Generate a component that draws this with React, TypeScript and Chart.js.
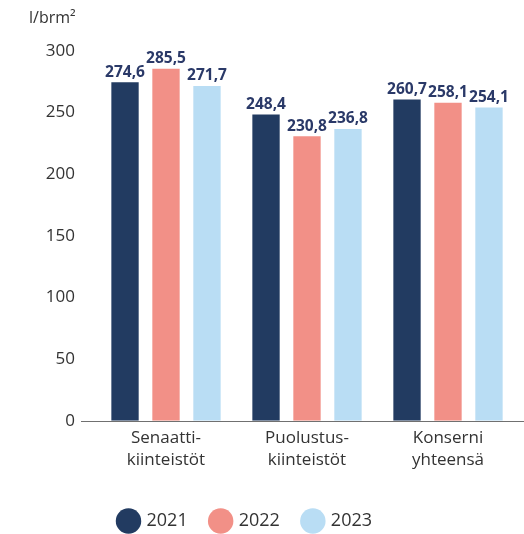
import React, { useEffect, useRef } from "react";
import { Chart, registerables } from "chart.js";

Chart.register(...registerables);

const categories: string[][] = [
  ["Senaatti-", "kiinteistöt"],
  ["Puolustus-", "kiinteistöt"],
  ["Konserni", "yhteensä"],
];
const seriesNames = ["2021", "2022", "2023"];
const values2021 = [274.6, 248.4, 260.7];
const values2022 = [285.5, 230.8, 258.1];
const values2023 = [271.7, 236.8, 254.1];
const seriesColors = ["#223b61", "#f29087", "#b9ddf4"];
const yTicksStep = 50;
const yMax = 300;
const unitLabel = "l/brm²";

const FONT = "'Open Sans', 'Noto Sans', sans-serif";
const TEXT = "#333333";
const LABEL = "#2a3968";

const baselinePlugin = {
  id: "baseline",
  beforeDatasetsDraw(chart: any) {
    const { ctx, chartArea, scales } = chart;
    const y = Math.round(scales.y.getPixelForValue(0)) + 0.5;
    ctx.save();
    ctx.strokeStyle = "#707070";
    ctx.lineWidth = 1.2;
    ctx.beginPath();
    ctx.moveTo(chartArea.left - 14.5, y);
    ctx.lineTo(chart.width, y);
    ctx.stroke();
    ctx.restore();
  },
};

const valueLabelPlugin = {
  id: "valueLabels",
  afterDatasetsDraw(chart: any) {
    const { ctx } = chart;
    ctx.save();
    ctx.font = `bold 15.5px ${FONT}`;
    ctx.fillStyle = LABEL;
    ctx.textAlign = "center";
    ctx.textBaseline = "alphabetic";
    chart.data.datasets.forEach((ds: any, di: number) => {
      const meta = chart.getDatasetMeta(di);
      meta.data.forEach((bar: any, i: number) => {
        const v = ds.data[i] as number;
        ctx.fillText(v.toFixed(1).replace(".", ","), bar.x, bar.y - 5.5);
      });
    });
    ctx.restore();
  },
};

export default function App() {
  const ref = useRef<HTMLCanvasElement | null>(null);

  useEffect(() => {
    if (!ref.current) return;
    const series = [values2021, values2022, values2023];
    const chart = new Chart(ref.current, {
      type: "bar",
      data: {
        labels: categories,
        datasets: series.map((d, i) => ({
          label: seriesNames[i],
          data: d,
          backgroundColor: seriesColors[i],
          borderWidth: 0,
          categoryPercentage: 0.872,
          barPercentage: 0.667,
        })),
      },
      options: {
        responsive: false,
        animation: false,
        layout: { padding: { left: 29, right: 5.5, top: 0, bottom: 0 } },
        plugins: {
          tooltip: { enabled: false },
          title: {
            display: true,
            text: unitLabel,
            align: "start",
            color: TEXT,
            font: { family: FONT, size: 16, weight: "normal" },
            padding: { top: 9, bottom: 22.8 },
          },
          legend: {
            position: "bottom",
            align: "start",
            fullSize: false,
            labels: {
              usePointStyle: true,
              pointStyle: "circle",
              color: TEXT,
              font: { family: FONT, size: 18 },
              padding: 24,
            },
          },
        },
        scales: {
          x: {
            grid: { display: false, drawTicks: false },
            border: { display: false },
            ticks: {
              color: TEXT,
              font: { family: FONT, size: 17, lineHeight: 1.3 },
              padding: 6.5,
              maxRotation: 0,
              autoSkip: false,
            },
            afterFit: (s: any) => {
              s.height = s.height + 10;
            },
          },
          y: {
            min: 0,
            max: yMax,
            grid: { display: false, drawTicks: false },
            border: { display: false },
            ticks: {
              stepSize: yTicksStep,
              color: TEXT,
              font: { family: FONT, size: 17 },
              padding: 20.5,
            },
            afterFit: (s: any) => {
              s.width = 66.5;
            },
          },
        },
      },
      plugins: [baselinePlugin, valueLabelPlugin],
    });
    return () => chart.destroy();
  }, []);

  return (
    <div
      style={{
        position: "absolute",
        left: 0,
        top: 0,
        width: 524,
        height: 534,
        overflow: "hidden",
        background: "#ffffff",
      }}
    >
      <canvas ref={ref} width={524} height={540} style={{ display: "block" }} />
    </div>
  );
}
